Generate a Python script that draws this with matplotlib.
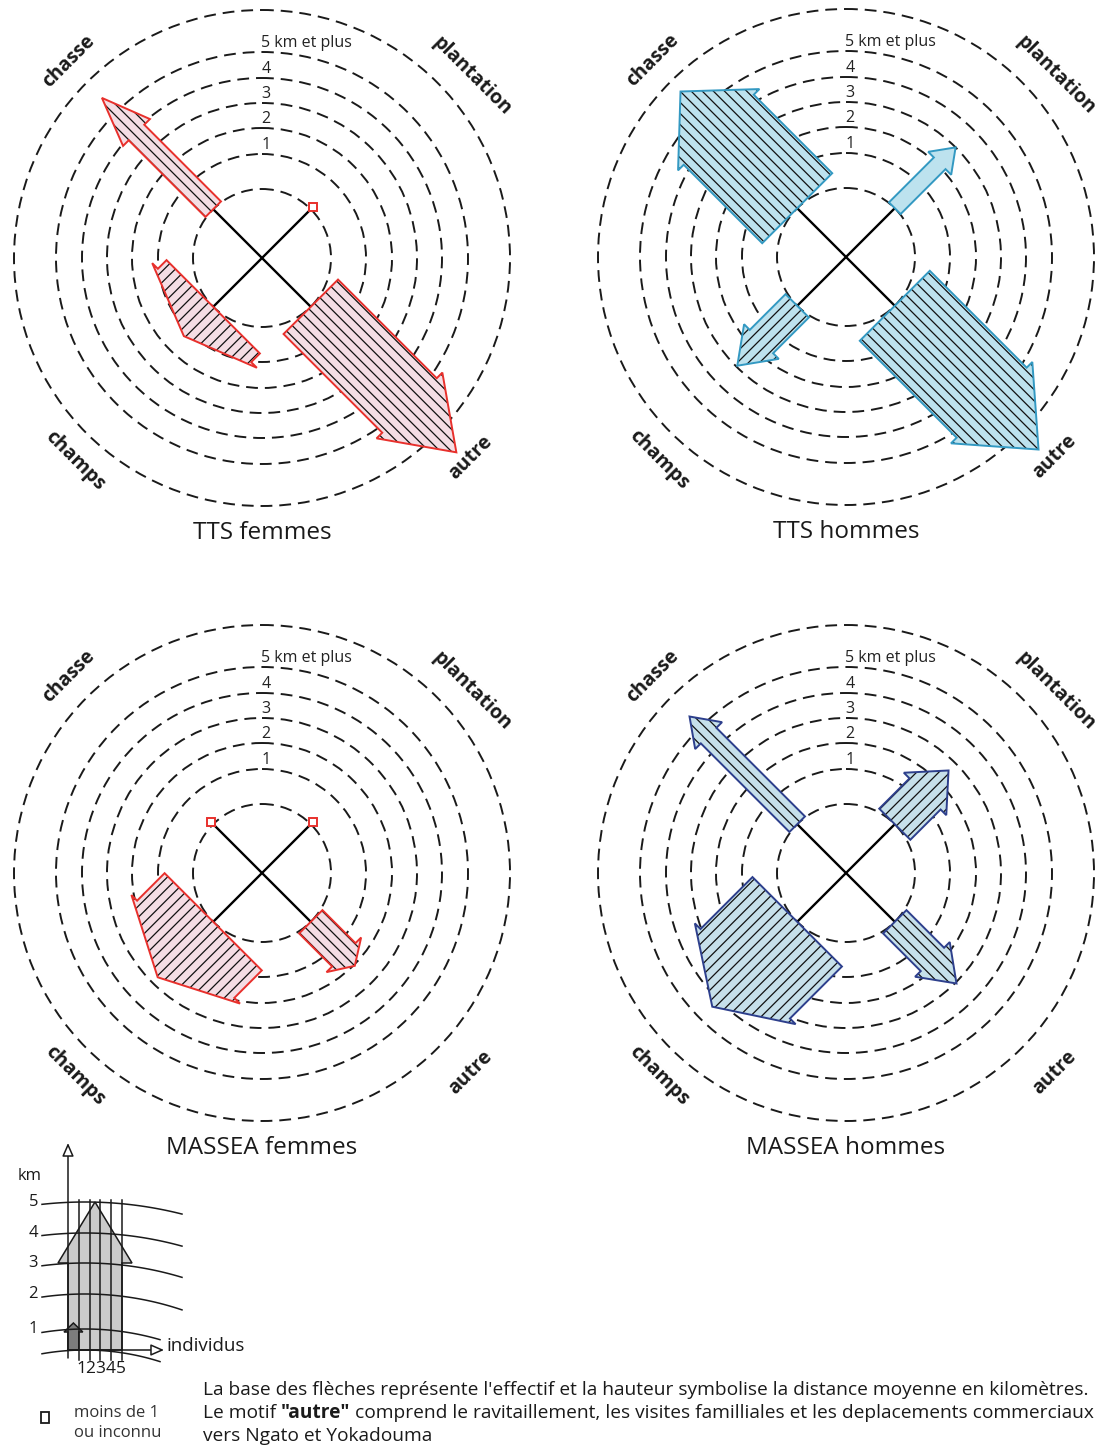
import numpy as np
import matplotlib.pyplot as plt
from matplotlib.patches import Polygon, Circle, Rectangle

plt.rcParams['lines.scale_dashes'] = False
plt.rcParams['hatch.linewidth'] = 0.9
FONT = ['Open Sans', 'DejaVu Sans']

# motifs de déplacement, in the order chasse / plantation / champs / autre
motifs = ["chasse", "plantation", "champs", "autre"]

# effectif (individus), distance moyenne (km) and start of the arrow head (km)
# nan = "moins de 1 ou inconnu"
tts_f_ind = [2, np.nan, 12, 7]
tts_f_km = [5.8, np.nan, 1.25, 7.7]
tts_f_head = [3.9, np.nan, 0.35, 5.1]

tts_h_ind = [9, 1.5, 3, 9]
tts_h_km = [6.1, 3.0, 2.95, 7.6]
tts_h_head = [4.0, 2.1, 1.6, 5.0]

massea_f_ind = [np.nan, np.nan, 12.5, 3]
massea_f_km = [np.nan, np.nan, 2.7, 2.05]
massea_f_head = [np.nan, np.nan, 1.15, 1.45]

massea_h_ind = [2, 4, 11.5, 3]
massea_h_km = [5.6, 2.6, 4.35, 3.05]
massea_h_head = [4.55, 1.3, 2.5, 1.7]

ring_km = [0, 1, 2, 3, 4, 5]
ring_labels = ["1", "2", "3", "4", "5 km et plus"]

# ---- geometry (pixels) ----
RING_R = [69, 104, 130, 155, 180, 206]
OUTER_R = 248
R_PER_KM = 25.5
PX_IND = 11
BARB = 8
S2 = np.sqrt(0.5)
DIRS = {"chasse": (-S2, -S2), "plantation": (S2, -S2),
        "champs": (-S2, S2), "autre": (S2, S2)}
HATCH = {"chasse": "\\\\\\", "plantation": "///",
         "champs": "///", "autre": "\\\\\\"}
LABEL_OFF = {"chasse": (-193, -197, 45), "plantation": (210, -182, -45),
             "champs": (-187, 203, -45), "autre": (208, 200, 45)}

RED = "#e8302c"
PINK = "#f4dde4"
INK = "#1a1a1a"


def km_to_r(km):
    if km <= 5:
        return np.interp(km, ring_km, RING_R)
    return RING_R[-1] + (km - 5) * R_PER_KM


fig = plt.figure(figsize=(11.12, 14.52), dpi=100)
ax = fig.add_axes([0, 0, 1, 1])
ax.set_xlim(0, 1112)
ax.set_ylim(1452, 0)
ax.set_aspect('equal')
ax.axis('off')


def panel(cx, cy, title, ind, km, head, edge, face):
    for r in RING_R + [OUTER_R]:
        ax.add_patch(Circle((cx, cy), r, fill=False, ec=INK, lw=1.4,
                            ls=(0, (8.5, 5)), zorder=1))
    for r, lab in zip(RING_R[1:], ring_labels):
        if lab.startswith("5"):
            ax.text(cx - 1, cy - r - 1, lab, ha='left', va='bottom',
                    fontsize=11.5, family=FONT, color="#222", zorder=3)
        else:
            ax.text(cx + 4, cy - r - 1, lab, ha='center', va='bottom',
                    fontsize=11.5, family=FONT, color="#222", zorder=3)
    for m, n, k, h in zip(motifs, ind, km, head):
        dx, dy = DIRS[m]
        px, py = -dy, dx
        r0 = RING_R[0]
        ax.plot([cx, cx + dx * (r0 + 1)], [cy, cy + dy * (r0 + 1)],
                color="black", lw=1.7, zorder=4, solid_capstyle='butt')
        if np.isnan(n):
            ax.plot(cx + dx * (r0 + 3), cy + dy * (r0 + 3), marker='s', ms=6,
                    mfc='white', mec=RED, mew=1.4, zorder=6)
            continue
        hw = n * PX_IND / 2
        hb = hw + BARB
        uh = km_to_r(h)
        ut = km_to_r(k)
        loc = [(r0, -hw), (uh, -hw), (uh, -hb), (ut, 0), (uh, hb), (uh, hw), (r0, hw)]
        pts = [(cx + u * dx + v * px, cy + u * dy + v * py) for u, v in loc]
        ax.add_patch(Polygon(pts, closed=True, fc=face, ec='none', zorder=5))
        if n >= 2:
            ax.add_patch(Polygon(pts, closed=True, fc='none', ec='#111111',
                                 lw=0, hatch=HATCH[m], zorder=5))
        ax.add_patch(Polygon(pts, closed=True, fc='none', ec=edge, lw=1.4,
                             joinstyle='miter', zorder=6))
    for m in motifs:
        ox, oy, rot = LABEL_OFF[m]
        ax.text(cx + ox, cy + oy, m, rotation=rot, ha='center', va='center',
                rotation_mode='anchor', fontsize=14, fontweight='bold',
                family=FONT, color=INK)
    ax.text(cx, cy + 275, title, ha='center', va='center', fontsize=17.5,
            family=FONT, color=INK)


panel(262, 258, "TTS femmes", tts_f_ind, tts_f_km, tts_f_head, RED, PINK)
panel(846, 257, "TTS hommes", tts_h_ind, tts_h_km, tts_h_head, "#3399c2", "#bde2ee")
panel(262, 873, "MASSEA femmes", massea_f_ind, massea_f_km, massea_f_head, RED, PINK)
panel(846, 873, "MASSEA hommes", massea_h_ind, massea_h_km, massea_h_head, "#2d3f8c", "#c6e0ea")

# ---- legend ----
leg_km = [0, 1, 2, 3, 4, 5]
leg_y = [1350, 1329, 1294, 1263, 1233, 1202]
leg_ind = [1, 2, 3, 4, 5]
AX0, AY0 = 68, 1350
CXL, CYL = 85, 1598
IND_W = 10.8

# sample arrows: 5 individus / 5 km (head from 3 km) and 1 individu / 1 km
big = [(AX0, AY0), (AX0, leg_y[3]), (AX0 - 10, leg_y[3]), (AX0 + 2.5 * IND_W, leg_y[5]),
       (AX0 + 5 * IND_W + 10, leg_y[3]), (AX0 + 5 * IND_W, leg_y[3]), (AX0 + 5 * IND_W, AY0)]
ax.add_patch(Polygon(big, closed=True, fc="#cbcbcb", ec=INK, lw=1.1, zorder=1))
small = [(AX0, AY0), (AX0, leg_y[1] + 3), (AX0 - 4, leg_y[1] + 3), (AX0 + IND_W / 2, leg_y[1] - 6),
         (AX0 + IND_W + 4, leg_y[1] + 3), (AX0 + IND_W, leg_y[1] + 3), (AX0 + IND_W, AY0)]
ax.add_patch(Polygon(small, closed=True, fc="#7c7c7c", ec=INK, lw=1.1, zorder=2))

for k, y in zip(leg_km, leg_y):
    R = CYL - y
    x_end = 182 if k >= 2 else 160
    xs = np.linspace(42, x_end, 60)
    ys = CYL - np.sqrt(R ** 2 - (xs - CXL) ** 2)
    ax.plot(xs, ys, color=INK, lw=1.1, zorder=3)
    if k > 0:
        ax.text(38, y, str(k), ha='right', va='center', fontsize=12,
                family=FONT, color=INK)
for i in leg_ind:
    x = AX0 + i * IND_W
    ax.plot([x, x], [AY0 + 10, leg_y[5] - 2], color=INK, lw=1.1, zorder=3)
ax.text(AX0 + 3 * IND_W + 1, AY0 + 19, "".join(str(i) for i in leg_ind), ha='center',
        va='center', fontsize=12.5, family=FONT, color=INK)
ax.annotate('', xy=(AX0, 1143), xytext=(AX0, AY0 + 8),
            arrowprops=dict(arrowstyle='-|>,head_length=0.8,head_width=0.35',
                            fc='white', ec=INK, lw=1.1, shrinkA=0, shrinkB=0), zorder=4)
ax.annotate('', xy=(164, AY0), xytext=(AX0, AY0),
            arrowprops=dict(arrowstyle='-|>,head_length=0.8,head_width=0.35',
                            fc='white', ec=INK, lw=1.1, shrinkA=0, shrinkB=0), zorder=4)
ax.text(18, 1176, "km", ha='left', va='center', fontsize=12, family=FONT, color=INK)
ax.text(166, 1346, "individus", ha='left', va='center', fontsize=13.5, family=FONT,
        color=INK)

ax.add_patch(Rectangle((41, 1412), 8, 11, fc='white', ec=INK, lw=1.3))
ax.text(74, 1413, "moins de 1", ha='left', va='center', fontsize=12, family=FONT,
        color="#333")
ax.text(74, 1433, "ou inconnu", ha='left', va='center', fontsize=12, family=FONT,
        color="#333")

NOTE = dict(fontsize=13.8, family=FONT, color=INK, va='center')
ax.text(203, 1390, "La base des flèches représente l'effectif et la hauteur symbolise "
        "la distance moyenne en kilomètres.", ha='left', **NOTE)
t1 = ax.text(203, 1413, "Le motif ", ha='left', **NOTE)
t2 = ax.annotate('"autre"', xy=(1, 0.5), xycoords=t1, ha='left', fontweight='bold', **NOTE)
ax.annotate(" comprend le ravitaillement, les visites familliales et les deplacements "
            "commerciaux", xy=(1, 0.5), xycoords=t2, ha='left', **NOTE)
ax.text(203, 1436, "vers Ngato et Yokadouma", ha='left', **NOTE)

fig.savefig("out.png", dpi=100)
